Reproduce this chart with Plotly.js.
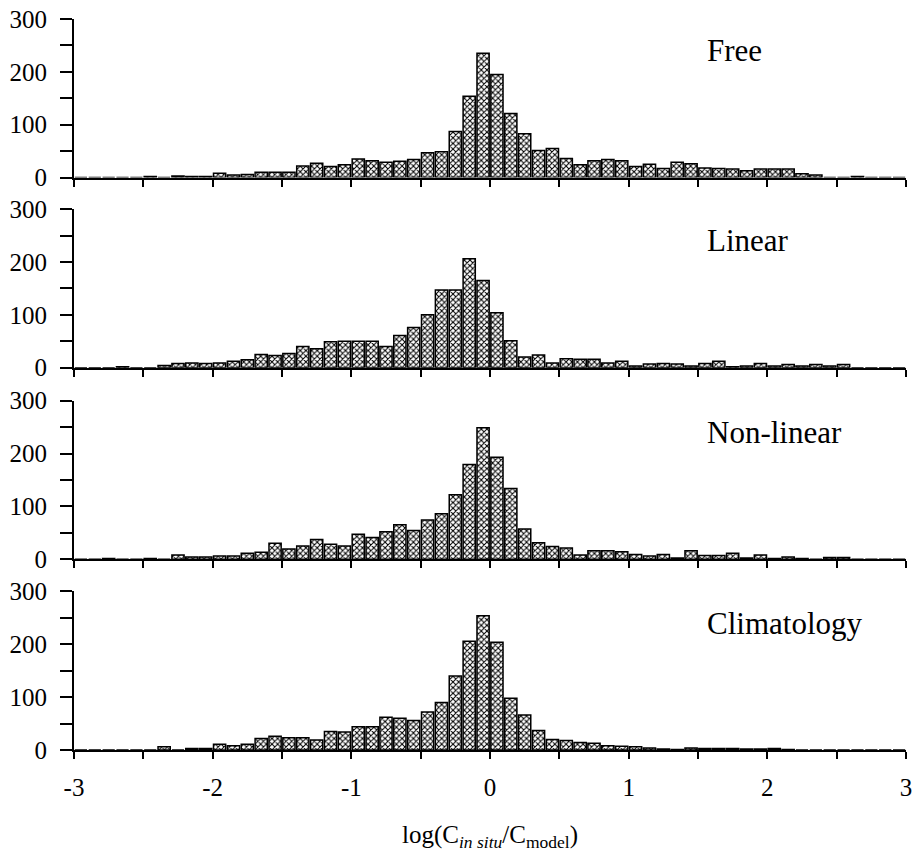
<!DOCTYPE html>
<html>
<head>
<meta charset="utf-8">
<script src="https://cdn.plot.ly/plotly-3.0.1.min.js"></script>
<style>html,body{margin:0;padding:0;background:#fff;}#chart{width:914px;height:852px;}</style>
</head>
<body>
<div id="chart"></div>
<script>
// Bin centres (bin width 0.1, from -3 to 3)
const bins = [-2.95,-2.85,-2.75,-2.65,-2.55,-2.45,-2.35,-2.25,-2.15,-2.05,
  -1.95,-1.85,-1.75,-1.65,-1.55,-1.45,-1.35,-1.25,-1.15,-1.05,
  -0.95,-0.85,-0.75,-0.65,-0.55,-0.45,-0.35,-0.25,-0.15,-0.05,
  0.05,0.15,0.25,0.35,0.45,0.55,0.65,0.75,0.85,0.95,
  1.05,1.15,1.25,1.35,1.45,1.55,1.65,1.75,1.85,1.95,
  2.05,2.15,2.25,2.35,2.45,2.55,2.65,2.75,2.85,2.95];

const freeCounts = [0,0,0,0,0,2,0,3,2,2,
  8,5,6,10,10,10,22,27,21,24,
  35,32,29,31,34,47,49,87,154,235,
  195,121,83,51,55,36,24,32,34,32,
  21,25,17,29,26,18,17,16,13,16,
  16,16,7,5,0,0,2,0,0,0];

const linearCounts = [0,0,0,2,0,0,4,8,9,8,
  9,12,15,25,23,27,40,36,49,50,
  50,50,40,61,76,100,147,147,206,165,
  104,51,20,24,9,17,16,16,9,12,
  3,7,8,7,3,8,12,2,3,8,
  3,6,3,6,3,6,0,0,0,0];

const nonlinearCounts = [0,0,1,0,0,1,0,8,4,4,
  6,6,11,13,30,19,25,37,28,25,
  47,41,52,65,54,74,86,122,179,249,
  193,134,57,31,24,21,8,16,16,14,
  9,6,9,2,16,7,7,11,2,8,
  1,4,1,0,3,3,0,0,0,0];

const climatologyCounts = [0,0,0,0,0,0,6,0,3,3,
  11,8,11,22,26,23,23,19,35,34,
  44,44,62,60,56,72,90,140,206,254,
  204,98,66,37,20,18,14,13,8,7,
  6,4,2,1,4,3,3,3,2,2,
  3,1,0,0,0,0,0,0,0,0];

const panelNames = ["Free","Linear","Non-linear","Climatology"];
const yTickVals = [0,100,200,300];
const xTickVals = [-3,-2,-1,0,1,2,3];
const xTickText = ["-3","-2","-1","0","1","2","3"];

const series = [freeCounts, linearCounts, nonlinearCounts, climatologyCounts];
const FONT = "Liberation Serif";

const traces = series.map((vals, i) => ({
  type: 'bar',
  x: bins,
  y: vals,
  xaxis: i === 0 ? 'x' : 'x' + (i + 1),
  yaxis: i === 0 ? 'y' : 'y' + (i + 1),
  marker: {
    color: 'white',
    line: {color: 'black', width: 1.5},
    pattern: {shape: 'x', fgcolor: 'black', bgcolor: 'white', size: 4, solidity: 0.45}
  },
  showlegend: false,
  hoverinfo: 'x+y'
}));

const domains = [[0.7831, 1.0], [0.5230, 0.7399], [0.2611, 0.4778], [0, 0.2169]];

const layout = {
  width: 914, height: 852,
  margin: {l: 74, r: 8, t: 19, b: 102, pad: 0},
  paper_bgcolor: 'white', plot_bgcolor: 'white',
  bargap: 0.12,
  font: {family: FONT, color: 'black', size: 25},
  annotations: []
};

for (let i = 0; i < 4; i++) {
  const xk = i === 0 ? 'xaxis' : 'xaxis' + (i + 1);
  const yk = i === 0 ? 'yaxis' : 'yaxis' + (i + 1);
  const yref = i === 0 ? 'y' : 'y' + (i + 1);
  const xref = i === 0 ? 'x' : 'x' + (i + 1);
  layout[xk] = {
    domain: [0, 1],
    anchor: yref,
    range: [-3, 3],
    tickvals: xTickVals,
    ticktext: xTickText,
    showticklabels: i === 3,
    ticks: 'outside', ticklen: 7, tickwidth: 2, tickcolor: 'black',
    minor: {dtick: 0.5, tick0: 0, ticks: 'outside', ticklen: 7, tickwidth: 2, tickcolor: 'black', showgrid: false},
    showline: true, linecolor: 'black', linewidth: 2,
    showgrid: false, zeroline: false,
    ticklabelstandoff: 7,
    tickfont: {family: FONT, size: 25, color: 'black'},
    fixedrange: true
  };
  if (i === 3) {
    layout[xk].title = {
      text: 'log(C<sub><i>in situ</i></sub>/C<sub>model</sub>)',
      font: {family: FONT, size: 25, color: 'black'},
      standoff: 25
    };
  }
  layout[yk] = {
    domain: domains[i],
    anchor: xref,
    range: [0, 300],
    tickvals: yTickVals,
    ticks: 'outside', ticklen: 12, tickwidth: 2, tickcolor: 'black',
    minor: {dtick: 50, tick0: 0, ticks: 'outside', ticklen: 12, tickwidth: 2, tickcolor: 'black', showgrid: false},
    showline: true, linecolor: 'black', linewidth: 2,
    showgrid: false, zeroline: false,
    ticklabelstandoff: 8,
    tickfont: {family: FONT, size: 25, color: 'black'},
    fixedrange: true
  };
  layout.annotations.push({
    xref: xref, yref: yref,
    x: 1.55, y: 240,
    xanchor: 'left', yanchor: 'middle',
    text: panelNames[i],
    showarrow: false,
    font: {family: FONT, size: 31, color: 'black'}
  });
}

Plotly.newPlot('chart', traces, layout, {displayModeBar: false, staticPlot: true});
</script>
</body>
</html>
